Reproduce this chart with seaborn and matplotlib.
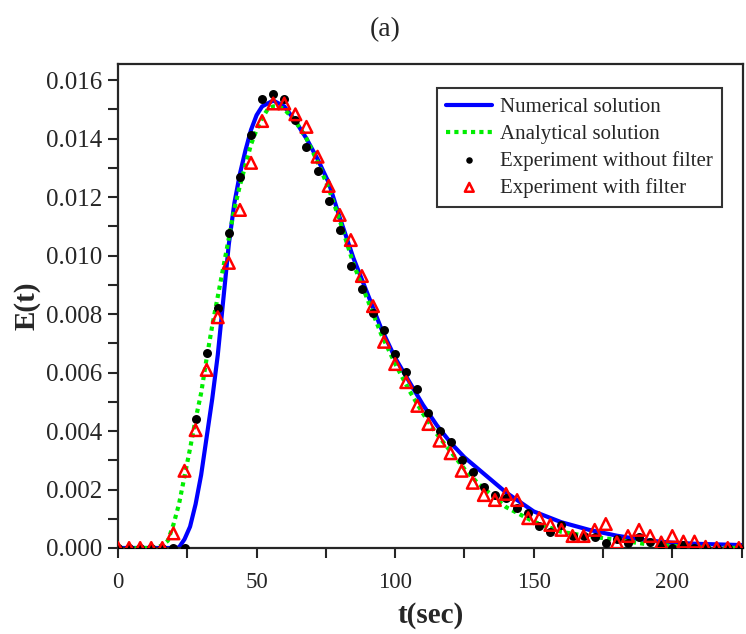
import numpy as np
import pandas as pd
import matplotlib
matplotlib.use("Agg")
import matplotlib.pyplot as plt
from matplotlib.ticker import MultipleLocator, FormatStrFormatter
import seaborn as sns

# ---- data ----
t_num = [0, 10, 14, 16, 18, 20, 22, 24, 26, 28, 30, 32, 34, 36, 38, 40, 42, 44, 46, 48,
         50, 52, 54, 56, 58, 60, 64, 68, 72, 76, 80, 85, 90, 95, 100, 105, 110, 115, 120,
         125, 130, 140, 150, 160, 170, 180, 190, 200, 210, 225]
e_num = [0, 0, 0, 0, 0, 0, 0.00002, 0.0003, 0.00073, 0.0015, 0.0025, 0.0038, 0.0051,
         0.0066, 0.0085, 0.0104, 0.0118, 0.0128, 0.0136, 0.0143, 0.0148, 0.0151, 0.0152,
         0.0153, 0.0152, 0.0151, 0.0146, 0.0140, 0.0133, 0.0125, 0.0113, 0.0099, 0.0087,
         0.0075, 0.0065, 0.0057, 0.0049, 0.0042, 0.0036, 0.0031, 0.0027, 0.0019, 0.00125,
         0.00088, 0.00062, 0.00042, 0.00027, 0.00018, 0.00014, 0.0001]

t_ana = [0, 10, 14, 16, 18, 20, 22, 24, 26, 28, 30, 32, 34, 36, 38, 40, 42, 44, 46, 48,
         50, 52, 54, 56, 58, 60, 64, 68, 72, 76, 80, 85, 90, 95, 100, 105, 110, 115, 120,
         125, 130, 140, 150, 160, 170, 180, 190, 200, 210, 225]
e_ana = [0, 0, 0.00001, 0.0001, 0.00025, 0.0008, 0.0015, 0.00245, 0.0034, 0.0044, 0.0053,
         0.0065, 0.0076, 0.0086, 0.0096, 0.0106, 0.0116, 0.0124, 0.0131, 0.0138, 0.0143,
         0.0147, 0.0150, 0.0151, 0.0151, 0.0150, 0.0146, 0.0140, 0.0132, 0.0123, 0.0112,
         0.0097, 0.0085, 0.0073, 0.0063, 0.0054, 0.0046, 0.0039, 0.0033, 0.0027, 0.0022,
         0.0014, 0.0009, 0.00055, 0.0004, 0.00028, 0.00014, 0.00007, 0.00002, 0.0]

t_exp = list(range(0, 228, 4))
e_nofilter = [0, 0, 0, 0, 0, 0, 0, 0.00441, 0.00666, 0.00820, 0.01076, 0.01270, 0.01411,
              0.01534, 0.01552, 0.01534, 0.01465, 0.01370, 0.01289, 0.01185, 0.01087,
              0.00965, 0.00886, 0.00803, 0.00745, 0.00663, 0.00603, 0.00543, 0.00461,
              0.00401, 0.00361, 0.00300, 0.00261, 0.0021, 0.0018, 0.0017, 0.00136,
              0.00119, 0.00075, 0.00056, 0.00079, 0.0004, 0.0004, 0.00037, 0.00016,
              0.0003, 0.00016, 0.00039, 0.0002, 0.0001, 0.0, 0.0001, 0.0, 0.0, 0.0, 0.0, 0.0]
e_filter = [0, 0, 0, 0, 0, 0.0005, 0.00264, 0.00403, 0.00609, 0.00789, 0.00975, 0.01156,
            0.01317, 0.01460, 0.01520, 0.01520, 0.01483, 0.01440, 0.01338, 0.01238,
            0.01139, 0.01053, 0.00930, 0.00827, 0.00705, 0.00629, 0.00567, 0.00486,
            0.00424, 0.00367, 0.00324, 0.00264, 0.00223, 0.00181, 0.00164, 0.00185,
            0.00164, 0.00102, 0.00102, 0.00079, 0.00062, 0.00041, 0.00041, 0.00062,
            0.00082, 0.00019, 0.00041, 0.00062, 0.00041, 0.00019, 0.00041, 0.00022,
            0.00022, 0.00004, 0.0, 0.0, 0.0]

labels = ["Numerical solution", "Analytical solution",
          "Experiment without filter", "Experiment with filter"]

df_num = pd.DataFrame({"t": t_num, "E": e_num})
df_ana = pd.DataFrame({"t": t_ana, "E": e_ana})
df_exp = pd.DataFrame({"t": t_exp, "nof": e_nofilter, "wf": e_filter})

# ---- style ----
sns.set_style("ticks")
plt.rcParams["font.family"] = ["Liberation Serif", "DejaVu Serif"]

fig = plt.figure(figsize=(7.46, 6.34), dpi=100)
ax = fig.add_axes([118 / 746, 86 / 634, 625 / 746, 484 / 634])

sns.lineplot(data=df_num, x="t", y="E", ax=ax, color="#0000ff", lw=3.0,
             label=labels[0], zorder=2)
sns.lineplot(data=df_ana, x="t", y="E", ax=ax, color="#00ee00", lw=3.0,
             label=labels[1], zorder=3, dashes=False)
ax.lines[-1].set_dashes((1.0, 1.0))
sns.scatterplot(data=df_exp, x="t", y="nof", ax=ax, color="black", s=42,
                edgecolor="black", linewidth=0, label=labels[2], zorder=4)
sns.scatterplot(data=df_exp, x="t", y="wf", ax=ax, marker="^", s=70,
                facecolor="none", edgecolor="red", linewidth=1.8,
                label=labels[3], zorder=5)

ax.set_xlim(0, 225.5)
ax.set_ylim(0, 0.01655)
ax.xaxis.set_major_locator(MultipleLocator(50))
ax.xaxis.set_minor_locator(MultipleLocator(25))
ax.yaxis.set_major_locator(MultipleLocator(0.002))
ax.yaxis.set_minor_locator(MultipleLocator(0.001))
ax.yaxis.set_major_formatter(FormatStrFormatter("%.3f"))

for s in ax.spines.values():
    s.set_linewidth(1.6)
ax.tick_params(which="major", direction="out", length=7, width=1.5,
               top=False, right=False)
ax.tick_params(which="minor", direction="out", length=7, width=1.5,
               top=False, right=False)
ax.tick_params(axis="x", labelsize=16.5, pad=10)
ax.tick_params(axis="y", labelsize=18, pad=4)

ax.set_xlabel("t(sec)", fontsize=21, fontweight="bold", labelpad=7)
ax.set_ylabel("E(t)", fontsize=21, fontweight="bold", labelpad=4)

fig.text(385 / 746, 1 - 30 / 634, "(a)", ha="center", va="center", fontsize=20)

leg = ax.legend(loc="upper right", bbox_to_anchor=(0.966, 0.950), fontsize=15,
                frameon=True, fancybox=False, edgecolor="black",
                handlelength=2.2, handletextpad=0.35, borderpad=0.45,
                labelspacing=0.34, borderaxespad=0)
leg.get_frame().set_linewidth(1.5)
leg.legend_handles[2].set_sizes([22])
leg.legend_handles[3].set_sizes([40])

fig.savefig("out.png", dpi=100)
